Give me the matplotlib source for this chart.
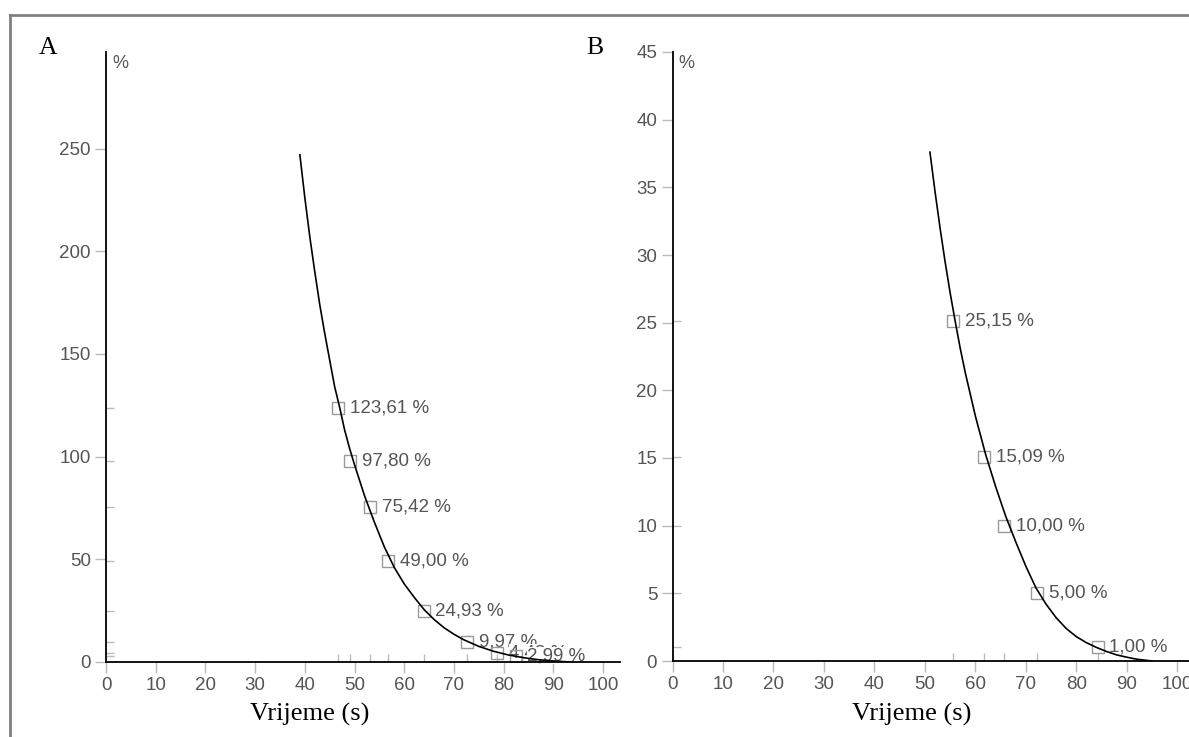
import numpy as np
import matplotlib
matplotlib.use('Agg')
import matplotlib.pyplot as plt
from matplotlib.lines import Line2D

plt.rcParams['font.family'] = ['Liberation Sans', 'DejaVu Sans']

# panel A: fitted curve
a_curve_x = [39.0, 40.0, 41.0, 42.0, 43.0, 44.0, 45.0, 46.0, 47.0, 48.0, 49.0, 50.0,
             52.0, 54.0, 56.0, 58.0, 60.0, 62.0, 64.0, 66.0, 68.0, 70.0, 72.0, 75.0,
             78.0, 81.0, 84.0, 87.0, 90.0, 93.5]
a_curve_y = [247, 226, 207, 190, 174, 160, 147, 134, 124, 113, 104, 96,
             81, 68, 56, 46, 38, 31.5, 25.5, 20.7, 16.7, 13.5, 10.8, 7.6,
             5.2, 3.4, 2.1, 1.1, 0.5, 0]
a_pts_x = [46.7, 49.1, 53.2, 56.7, 63.9, 72.7, 78.6, 82.4]
a_pts_y = [123.61, 97.80, 75.42, 49.00, 24.93, 9.97, 4.48, 2.99]
a_labels = ['123,61 %', '97,80 %', '75,42 %', '49,00 %', '24,93 %', '9,97 %', '4,48 %', '2,99 %']

# panel B
b_curve_x = [51.0, 52.0, 53.0, 54.0, 55.0, 56.0, 57.0, 58.0, 59.0, 60.0, 62.0, 64.0,
             66.0, 68.0, 70.0, 72.0, 74.0, 76.0, 78.0, 80.0, 82.0, 84.0, 86.0, 88.0,
             90.0, 92.0, 95.0]
b_curve_y = [37.6, 34.7, 32.0, 29.5, 27.2, 25.1, 23.1, 21.3, 19.7, 18.1, 15.3, 12.9,
             10.7, 8.8, 7.0, 5.4, 4.2, 3.2, 2.4, 1.8, 1.35, 1.0, 0.7, 0.45,
             0.28, 0.13, 0]
b_pts_x = [55.6, 61.7, 65.7, 72.3, 84.2]
b_pts_y = [25.15, 15.09, 10.00, 5.00, 1.00]
b_labels = ['25,15 %', '15,09 %', '10,00 %', '5,00 %', '1,00 %']

W, H = 1189, 737
fig = plt.figure(figsize=(W / 100, H / 100), dpi=100)

tick_col = '#bbbbbb'
text_col = '#555555'


def panel(rect, xlim, ylim, yticks, cx, cy, px, py, labels, letter, letter_x, xlabel_x):
    ax = fig.add_axes(rect)
    ax.set_xlim(*xlim)
    ax.set_ylim(*ylim)
    for s in ['top', 'right']:
        ax.spines[s].set_visible(False)
    for s in ['left', 'bottom']:
        ax.spines[s].set_color('black')
        ax.spines[s].set_linewidth(1.3)
        ax.spines[s].set_zorder(10)
    ax.set_xticks(range(0, 101, 10))
    ax.set_yticks(yticks)
    ax.tick_params(length=8, width=1, color=tick_col, labelcolor=text_col,
                   labelsize=13.5, pad=3)

    ax.plot(cx, cy, color='black', lw=1.2, zorder=6)
    for x, y, lab in zip(px, py, labels):
        ax.annotate(lab, (x, y), xytext=(8.5, 0), textcoords='offset points',
                    ha='left', va='center', fontsize=13.5, color=text_col,
                    bbox=dict(fc='white', ec='none', pad=0), zorder=4)
    ax.plot(px, py, 's', ms=8, mfc='none', mec='#999999', mew=1, zorder=5)

    # rug marks on both axes
    ax.plot(px, [ylim[0]] * len(px), ls='none', marker=2, ms=6, color=tick_col,
            clip_on=False, zorder=3)
    ax.plot([0] * len(py), py, ls='none', marker=1, ms=6, color=tick_col,
            clip_on=False, zorder=3)

    ax.annotate('%', xy=(0, 1), xycoords='axes fraction', xytext=(6, -11),
                textcoords='offset pixels', ha='left', va='center',
                fontsize=13, color=text_col)
    fig.text(letter_x / W, 1 - 48 / H, letter, family='Liberation Serif',
             fontsize=18.5, ha='center', va='center')
    fig.text(xlabel_x / W, 1 - 714 / H, 'Vrijeme (s)', family='Liberation Serif',
             fontsize=19, ha='center', va='center')
    return ax


panel([106 / W, 75 / H, 514 / W, 610 / H], (0, 103.4), (0, 297),
      range(0, 251, 50), a_curve_x, a_curve_y, a_pts_x, a_pts_y, a_labels,
      'A', 48, 310)
panel([672.5 / W, 76 / H, 525 / W, 609 / H], (0, 104), (0, 45),
      range(0, 46, 5), b_curve_x, b_curve_y, b_pts_x, b_pts_y, b_labels,
      'B', 595, 912)

# frame around the figure
fig.add_artist(Line2D([10 / W, 1], [1 - 15 / H, 1 - 15 / H], color='#808080', lw=2))
fig.add_artist(Line2D([10 / W, 10 / W], [0, 1 - 15 / H], color='#808080', lw=2))

fig.savefig('out.png', dpi=100)
